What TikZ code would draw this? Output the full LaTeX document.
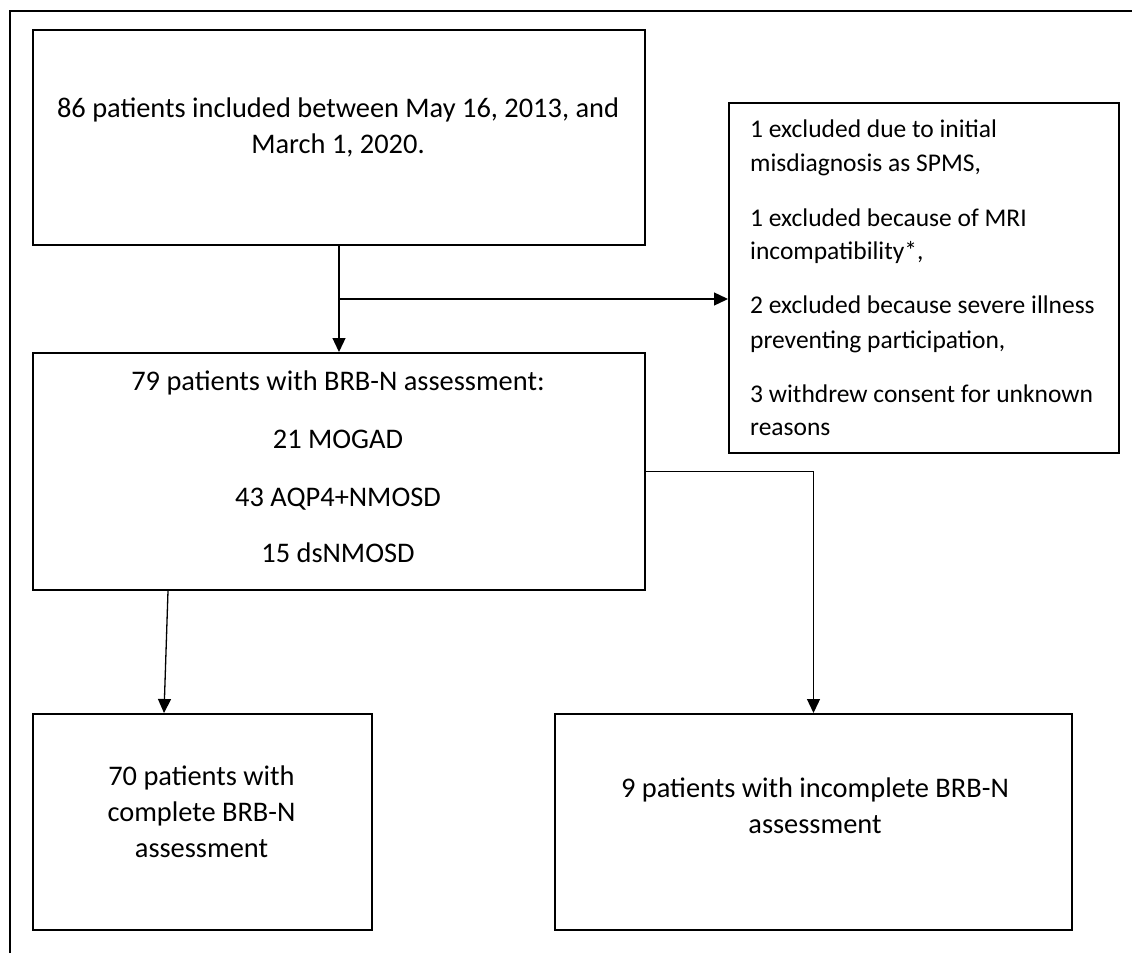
\documentclass[tikz,border=0pt]{standalone}
\usepackage{fontspec}
\setmainfont{Carlito}
\usetikzlibrary{arrows.meta,calc}
\begin{document}
\begin{tikzpicture}[x=1pt,y=-1pt,
  box/.style={draw,line width=2pt,rectangle,inner sep=0pt,anchor=north west},
  conn/.style={line width=1.3pt},
  arr/.style={conn,-{Triangle[length=14pt,width=13pt]}},
  big/.style={font=\fontsize{28.4}{36}\selectfont,inner sep=0pt,anchor=base},
  small/.style={font=\fontsize{25.5}{34}\selectfont,inner sep=0pt,anchor=base west}]
\useasboundingbox (0,0) rectangle (1132,953);
\draw[line width=2pt] (10,953) -- (10,11) -- (1132,11);

% boxes
\node[box,minimum width=612pt,minimum height=215pt] (b1) at (32,29) {};
\node[box,minimum width=612pt,minimum height=237pt] (b2) at (32,352) {};
\node[box,minimum width=390pt,minimum height=350pt] (b3) at (728,102) {};
\node[box,minimum width=339pt,minimum height=216pt] (b4) at (32,713) {};
\node[box,minimum width=517pt,minimum height=216pt] (b5) at (554,713) {};

% box 1 text
\node[big] (t1a) at (338,117) {86 patients included between May 16, 2013, and};
\node[big] (t1b) at (338,153) {March 1, 2020.};

% box 2 text
\node[big] (t2a) at (338,390) {79 patients with BRB-N assessment:};
\node[big] (t2b) at (338,448) {21 MOGAD};
\node[big] (t2c) at (338,506) {43 AQP4+NMOSD};
\node[big] (t2d) at (338,562) {15 dsNMOSD};

% box 3 text
\node[small] (t3a) at (750,137) {1 excluded due to initial};
\node[small] (t3b) at (750,171) {misdiagnosis as SPMS,};
\node[small] (t3c) at (750,226) {1 excluded because of MRI};
\node[small] (t3d) at (750,259) {incompatibility*,};
\node[small] (t3e) at (750,313) {2 excluded because severe illness};
\node[small] (t3f) at (750,348) {preventing participation,};
\node[small] (t3g) at (750,402) {3 withdrew consent for unknown};
\node[small] (t3h) at (750,435) {reasons};

% box 4 text
\node[big] (t4a) at (201.5,785) {70 patients with};
\node[big] (t4b) at (201.5,821) {complete BRB-N};
\node[big] (t4c) at (201.5,857) {assessment};

% box 5 text
\node[big] (t5a) at (815,797) {9 patients with incomplete BRB-N};
\node[big] (t5b) at (815,833) {assessment};

% connectors
\draw[arr] (b1.south) -- (b2.north);
\coordinate (j1) at ($(b1.south)!0.5!(b2.north)$);
\draw[arr] (j1) -- (j1 -| b3.west);
\draw[arr] (b2.east) -| (b5.north);
\draw[arr] ($(b2.south west)+(136,0)$) -- ($(b4.north west)+(132,0)$);
\end{tikzpicture}
\end{document}
